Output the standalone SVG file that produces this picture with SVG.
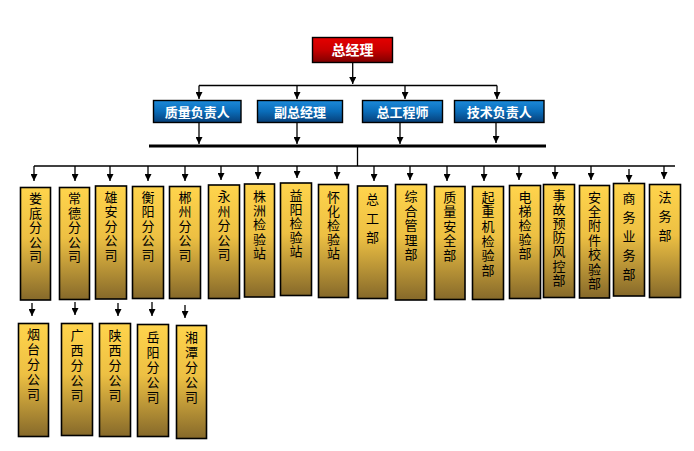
<svg xmlns="http://www.w3.org/2000/svg" width="694" height="451" viewBox="0 0 694 451">
<style>
.gold{fill:url(#gGold);stroke:#000;stroke-width:1.6}
.blue{fill:url(#gBlue);stroke:#000;stroke-width:1.4}
.red{fill:url(#gRed);stroke:#000;stroke-width:1.4}
.ht{font-family:"Noto Sans CJK SC","Noto Sans CJK TC",sans-serif;font-weight:bold;fill:#fff;text-anchor:middle}
.v{font-family:"Noto Sans CJK SC","Noto Sans CJK TC",sans-serif;font-size:13px;fill:#000;text-anchor:middle}
.ln{stroke:#000;stroke-width:1.3;fill:none}
.ar{stroke:#000;stroke-width:1.3;fill:none;marker-end:url(#arr)}
</style>
<defs>
<linearGradient id="gGold" x1="0" y1="0" x2="0" y2="1">
<stop offset="0" stop-color="#FFD44C"/>
<stop offset="0.45" stop-color="#EDC043"/>
<stop offset="1" stop-color="#86692A"/>
</linearGradient>
<linearGradient id="gBlue" x1="0" y1="0" x2="0" y2="1">
<stop offset="0" stop-color="#1C8ADA"/>
<stop offset="0.5" stop-color="#0A6CB8"/>
<stop offset="1" stop-color="#073F78"/>
</linearGradient>
<linearGradient id="gRed" x1="0" y1="0" x2="0" y2="1">
<stop offset="0" stop-color="#E60000"/>
<stop offset="0.5" stop-color="#C80000"/>
<stop offset="1" stop-color="#7E0000"/>
</linearGradient>
<marker id="arr" viewBox="0 0 8 8" refX="8" refY="4" markerWidth="7" markerHeight="7" orient="auto" markerUnits="userSpaceOnUse">
<path d="M0,0 L8,4 L0,8 z" fill="#000"/>
</marker>
</defs>

<g id="connectors">
<line class="ar" x1="352.7" y1="62" x2="352.7" y2="84"/>
<line class="ln" x1="199" y1="85.5" x2="497" y2="85.5"/>
<line class="ar" x1="199" y1="85.5" x2="199" y2="99"/>
<line class="ar" x1="297" y1="85.5" x2="297" y2="99"/>
<line class="ar" x1="405" y1="85.5" x2="405" y2="99"/>
<line class="ar" x1="497" y1="85.5" x2="497" y2="99"/>
<line class="ar" x1="199" y1="122" x2="199" y2="144"/>
<line class="ar" x1="297" y1="122" x2="297" y2="144"/>
<line class="ar" x1="400" y1="122" x2="400" y2="144"/>
<line class="ar" x1="496" y1="122" x2="496" y2="143"/>
<line x1="149" y1="146" x2="546" y2="146" stroke="#000" stroke-width="3"/>
<line class="ln" x1="357.5" y1="146" x2="357.5" y2="166"/>
<line class="ln" x1="34" y1="166" x2="675" y2="166"/>
<line class="ar" x1="34" y1="166" x2="34" y2="181"/>
<line class="ar" x1="75" y1="166" x2="75" y2="181"/>
<line class="ar" x1="110" y1="166" x2="110" y2="181"/>
<line class="ar" x1="148" y1="166" x2="148" y2="181"/>
<line class="ar" x1="185" y1="166" x2="185" y2="181"/>
<line class="ar" x1="221" y1="166" x2="221" y2="180"/>
<line class="ar" x1="258" y1="166" x2="258" y2="179"/>
<line class="ar" x1="297" y1="166" x2="297" y2="178"/>
<line class="ar" x1="337" y1="166" x2="337" y2="179"/>
<line class="ar" x1="374" y1="166" x2="374" y2="181"/>
<line class="ar" x1="410" y1="166" x2="410" y2="180"/>
<line class="ar" x1="447" y1="166" x2="447" y2="181"/>
<line class="ar" x1="484" y1="166" x2="484" y2="181"/>
<line class="ar" x1="519" y1="166" x2="519" y2="180"/>
<line class="ar" x1="555" y1="166" x2="555" y2="179"/>
<line class="ar" x1="591" y1="166" x2="591" y2="180"/>
<line class="ar" x1="629" y1="169" x2="629" y2="182"/>
<line class="ar" x1="664" y1="166" x2="664" y2="179"/>
<line class="ar" x1="32" y1="303" x2="32" y2="316"/>
<line class="ar" x1="75" y1="302" x2="75" y2="315"/>
<line class="ar" x1="118" y1="303" x2="118" y2="316"/>
<line class="ar" x1="152" y1="302" x2="152" y2="316"/>
<line class="ar" x1="185" y1="305" x2="185" y2="318"/>
</g>

<g id="n-zjl"><rect class="red" x="312.5" y="37.5" width="80" height="25"/><text class="ht" x="352.5" y="55" font-size="14">总经理</text></g>
<g id="n-zlfzr"><rect class="blue" x="153.5" y="100.5" width="87.5" height="22"/><text class="ht" x="197.3" y="116.5" font-size="13">质量负责人</text></g>
<g id="n-fzjl"><rect class="blue" x="257.5" y="100.5" width="85" height="22"/><text class="ht" x="300" y="116.5" font-size="13">副总经理</text></g>
<g id="n-zgcs"><rect class="blue" x="362.5" y="100.5" width="80" height="22"/><text class="ht" x="402.5" y="116.5" font-size="13">总工程师</text></g>
<g id="n-jsfzr"><rect class="blue" x="454.5" y="100.5" width="89.5" height="22"/><text class="ht" x="499.3" y="116.5" font-size="13">技术负责人</text></g>

<g id="n-loudi"><rect class="gold" x="20.5" y="187.5" width="30" height="112.5"/><text class="v"><tspan x="35.5" y="203">娄</tspan><tspan x="35.5" dy="14.5">底</tspan><tspan x="35.5" dy="14.5">分</tspan><tspan x="35.5" dy="14.5">公</tspan><tspan x="35.5" dy="14.5">司</tspan></text></g>
<g id="n-changde"><rect class="gold" x="59.5" y="187.5" width="30" height="112"/><text class="v"><tspan x="74.5" y="203">常</tspan><tspan x="74.5" dy="14.5">德</tspan><tspan x="74.5" dy="14.5">分</tspan><tspan x="74.5" dy="14.5">公</tspan><tspan x="74.5" dy="14.5">司</tspan></text></g>
<g id="n-xiongan"><rect class="gold" x="95.5" y="186" width="31" height="113"/><text class="v"><tspan x="111" y="201.5">雄</tspan><tspan x="111" dy="14.5">安</tspan><tspan x="111" dy="14.5">分</tspan><tspan x="111" dy="14.5">公</tspan><tspan x="111" dy="14.5">司</tspan></text></g>
<g id="n-hengyang"><rect class="gold" x="132.5" y="186.5" width="31" height="112"/><text class="v"><tspan x="148" y="201.5">衡</tspan><tspan x="148" dy="14.5">阳</tspan><tspan x="148" dy="14.5">分</tspan><tspan x="148" dy="14.5">公</tspan><tspan x="148" dy="14.5">司</tspan></text></g>
<g id="n-chenzhou"><rect class="gold" x="169.5" y="186.5" width="31" height="112"/><text class="v"><tspan x="185" y="201.5">郴</tspan><tspan x="185" dy="14.5">州</tspan><tspan x="185" dy="14.5">分</tspan><tspan x="185" dy="14.5">公</tspan><tspan x="185" dy="14.5">司</tspan></text></g>
<g id="n-yongzhou"><rect class="gold" x="208.5" y="185" width="31" height="113.5"/><text class="v"><tspan x="224" y="201">永</tspan><tspan x="224" dy="14.5">州</tspan><tspan x="224" dy="14.5">分</tspan><tspan x="224" dy="14.5">公</tspan><tspan x="224" dy="14.5">司</tspan></text></g>
<g id="n-zhuzhou"><rect class="gold" x="244.5" y="184" width="30" height="113"/><text class="v"><tspan x="259.5" y="201">株</tspan><tspan x="259.5" dy="14.2">洲</tspan><tspan x="259.5" dy="14.2">检</tspan><tspan x="259.5" dy="14.2">验</tspan><tspan x="259.5" dy="14.2">站</tspan></text></g>
<g id="n-yiyang"><rect class="gold" x="280.5" y="183" width="31" height="112.5"/><text class="v"><tspan x="296" y="199.5">益</tspan><tspan x="296" dy="14.2">阳</tspan><tspan x="296" dy="14.2">检</tspan><tspan x="296" dy="14.2">验</tspan><tspan x="296" dy="14.2">站</tspan></text></g>
<g id="n-huaihua"><rect class="gold" x="318.5" y="184.5" width="30" height="113"/><text class="v"><tspan x="333.5" y="201.5">怀</tspan><tspan x="333.5" dy="14.2">化</tspan><tspan x="333.5" dy="14.2">检</tspan><tspan x="333.5" dy="14.2">验</tspan><tspan x="333.5" dy="14.2">站</tspan></text></g>
<g id="n-zonggong"><rect class="gold" x="357.5" y="186" width="30" height="112.5"/><text class="v"><tspan x="372.5" y="204">总</tspan><tspan x="372.5" dy="19">工</tspan><tspan x="372.5" dy="19">部</tspan></text></g>
<g id="n-zhgl"><rect class="gold" x="395.5" y="184.5" width="31" height="115.5"/><text class="v"><tspan x="411" y="201">综</tspan><tspan x="411" dy="14.6">合</tspan><tspan x="411" dy="14.6">管</tspan><tspan x="411" dy="14.6">理</tspan><tspan x="411" dy="14.6">部</tspan></text></g>
<g id="n-zlaq"><rect class="gold" x="434.5" y="186.5" width="30.5" height="113"/><text class="v"><tspan x="449.7" y="201.5">质</tspan><tspan x="449.7" dy="14.6">量</tspan><tspan x="449.7" dy="14.6">安</tspan><tspan x="449.7" dy="14.6">全</tspan><tspan x="449.7" dy="14.6">部</tspan></text></g>
<g id="n-qzj"><rect class="gold" x="472.5" y="186.5" width="31" height="113"/><text class="v"><tspan x="488" y="201.5">起</tspan><tspan x="488" dy="14.7">重</tspan><tspan x="488" dy="14.7">机</tspan><tspan x="488" dy="14.7">检</tspan><tspan x="488" dy="14.7">验</tspan><tspan x="488" dy="14.7">部</tspan></text></g>
<g id="n-dt"><rect class="gold" x="509.5" y="185.5" width="31" height="113"/><text class="v"><tspan x="525" y="201.5">电</tspan><tspan x="525" dy="14.2">梯</tspan><tspan x="525" dy="14.2">检</tspan><tspan x="525" dy="14.2">验</tspan><tspan x="525" dy="14.2">部</tspan></text></g>
<g id="n-sgyf"><rect class="gold" x="543.5" y="184.5" width="31" height="113"/><text class="v"><tspan x="559" y="200">事</tspan><tspan x="559" dy="14.1">故</tspan><tspan x="559" dy="14.1">预</tspan><tspan x="559" dy="14.1">防</tspan><tspan x="559" dy="14.1">风</tspan><tspan x="559" dy="14.1">控</tspan><tspan x="559" dy="14.1">部</tspan></text></g>
<g id="n-aqfj"><rect class="gold" x="579.5" y="185.5" width="30" height="112.5"/><text class="v"><tspan x="594.5" y="201.5">安</tspan><tspan x="594.5" dy="14.4">全</tspan><tspan x="594.5" dy="14.4">附</tspan><tspan x="594.5" dy="14.4">件</tspan><tspan x="594.5" dy="14.4">校</tspan><tspan x="594.5" dy="14.4">验</tspan><tspan x="594.5" dy="14.4">部</tspan></text></g>
<g id="n-swyw"><rect class="gold" x="613.5" y="183.5" width="31" height="112.5"/><text class="v"><tspan x="629" y="203">商</tspan><tspan x="629" dy="19">务</tspan><tspan x="629" dy="19">业</tspan><tspan x="629" dy="19">务</tspan><tspan x="629" dy="19">部</tspan></text></g>
<g id="n-fw"><rect class="gold" x="649.5" y="184.5" width="31" height="113"/><text class="v"><tspan x="665" y="201.5">法</tspan><tspan x="665" dy="19">务</tspan><tspan x="665" dy="19">部</tspan></text></g>

<g id="n-yantai"><rect class="gold" x="18.5" y="323.5" width="30" height="113"/><text class="v"><tspan x="33.5" y="339">烟</tspan><tspan x="33.5" dy="15">台</tspan><tspan x="33.5" dy="15">分</tspan><tspan x="33.5" dy="15">公</tspan><tspan x="33.5" dy="15">司</tspan></text></g>
<g id="n-guangxi"><rect class="gold" x="61.5" y="323.5" width="31" height="112"/><text class="v"><tspan x="77" y="340">广</tspan><tspan x="77" dy="15">西</tspan><tspan x="77" dy="15">分</tspan><tspan x="77" dy="15">公</tspan><tspan x="77" dy="15">司</tspan></text></g>
<g id="n-shaanxi"><rect class="gold" x="99.5" y="323.5" width="31" height="113"/><text class="v"><tspan x="115" y="340">陕</tspan><tspan x="115" dy="15">西</tspan><tspan x="115" dy="15">分</tspan><tspan x="115" dy="15">公</tspan><tspan x="115" dy="15">司</tspan></text></g>
<g id="n-yueyang"><rect class="gold" x="137.5" y="324.5" width="31" height="112"/><text class="v"><tspan x="153" y="342">岳</tspan><tspan x="153" dy="15">阳</tspan><tspan x="153" dy="15">分</tspan><tspan x="153" dy="15">公</tspan><tspan x="153" dy="15">司</tspan></text></g>
<g id="n-xiangtan"><rect class="gold" x="176.5" y="325.5" width="30" height="113"/><text class="v"><tspan x="191.5" y="342">湘</tspan><tspan x="191.5" dy="15">潭</tspan><tspan x="191.5" dy="15">分</tspan><tspan x="191.5" dy="15">公</tspan><tspan x="191.5" dy="15">司</tspan></text></g>
</svg>
